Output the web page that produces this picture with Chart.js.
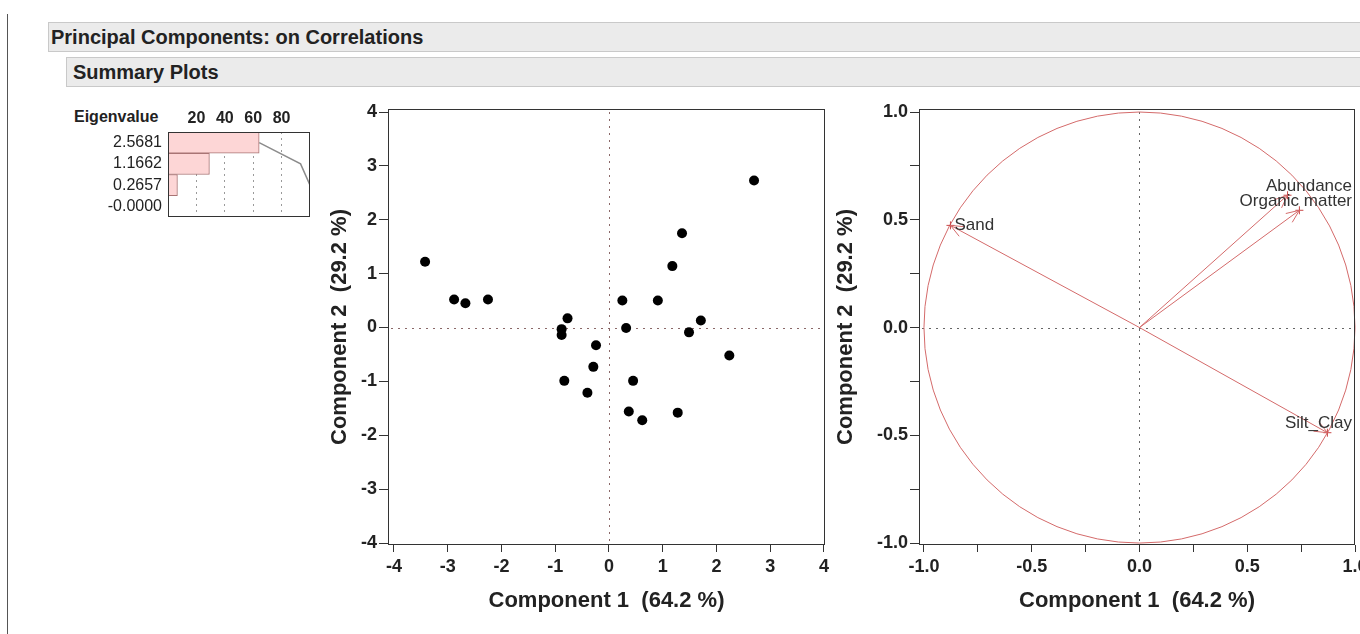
<!DOCTYPE html>
<html>
<head>
<meta charset="utf-8">
<script src="https://cdn.jsdelivr.net/npm/chart.js@4.4.1/dist/chart.umd.min.js"></script>
<style>
html, body { margin:0; padding:0; width:1360px; height:634px; overflow:hidden; background:#fff;
  font-family:"Liberation Sans", Arial, sans-serif; position:relative; }
#edge { position:absolute; left:7px; top:14px; width:1px; height:620px; background:#555; }
.bar { position:absolute; background:#ebebeb; border:1px solid #c9c9c9; border-right:none;
  font-weight:bold; color:#222; box-sizing:border-box; font-size:20px; line-height:28px; }
#title { left:48px; top:22px; width:1312px; height:30px; padding-left:2px; }
#sub { left:66px; top:57px; width:1294px; height:30px; padding-left:6px; }
.box { position:absolute; }
#eigBox { left:60px; top:100px; width:260px; height:125px; }
#scoreBox { left:320px; top:100px; width:515px; height:520px; }
#loadBox { left:826px; top:100px; width:554px; height:520px; }
#eigHead { position:absolute; left:74px; top:108px; font-size:16px; line-height:18px; font-weight:bold; color:#222; }
</style>
</head>
<body>
<div id="edge"></div>
<div class="bar" id="title">Principal Components: on Correlations</div>
<div class="bar" id="sub">Summary Plots</div>
<div id="eigHead">Eigenvalue</div>
<div class="box" id="eigBox"><canvas id="eig" width="260" height="125"></canvas></div>
<div class="box" id="scoreBox"><canvas id="score" width="515" height="520"></canvas></div>
<div class="box" id="loadBox"><canvas id="load" width="554" height="520"></canvas></div>
<script>
// eigenvalues
const eigenLabels = ['2.5681', '1.1662', '0.2657', '-0.0000'];
const eigenPercent = [64.2, 29.16, 6.64, 0];
const eigenCumPercent = [64.2, 93.36, 100, 100];
const percentTicks = [20, 40, 60, 80];

// score plot
const scoreX = [-3.42, -2.88, -2.67, -2.25, -0.77, -0.88, -0.88, -0.24, -0.29, -0.83, -0.40, 0.25,
                0.32, 0.45, 0.37, 0.62, 0.91, 1.18, 1.36, 1.71, 1.49, 1.28, 2.24, 2.70];
const scoreY = [1.22, 0.52, 0.45, 0.52, 0.17, -0.03, -0.14, -0.33, -0.73, -0.99, -1.21, 0.50,
                -0.01, -0.99, -1.56, -1.72, 0.50, 1.14, 1.75, 0.13, -0.09, -1.58, -0.52, 2.73];
const scoreTicks = [-4, -3, -2, -1, 0, 1, 2, 3, 4];

// loading plot
const loadingNames = ['Sand', 'Abundance', 'Organic matter', 'Silt_Clay'];
const loadingX = [-0.877, 0.687, 0.742, 0.872];
const loadingY = [0.474, 0.614, 0.544, -0.488];
const loadingTicks = [-1, -0.75, -0.5, -0.25, 0, 0.25, 0.5, 0.75, 1];

Chart.defaults.font.family = '"Liberation Sans", Arial, sans-serif';
Chart.defaults.color = '#222';

const noPad = s => { s.paddingLeft = 0; s.paddingRight = 0; s.paddingTop = 0; s.paddingBottom = 0; };

const framePlugin = {
  id: 'frame',
  afterDraw(chart) {
    const { ctx, chartArea: a } = chart;
    ctx.save();
    ctx.strokeStyle = '#333';
    ctx.lineWidth = 1;
    ctx.strokeRect(Math.round(a.left) + 0.5, Math.round(a.top) + 0.5,
      Math.round(a.right - a.left) - 1, Math.round(a.bottom - a.top) - 1);
    ctx.restore();
  }
};

const zeroLines = {
  id: 'zeroLines',
  beforeDatasetsDraw(chart, args, opts) {
    const { ctx, chartArea: a, scales: { x, y } } = chart;
    const px = Math.round(x.getPixelForValue(0)) + 0.5;
    const py = Math.round(y.getPixelForValue(0)) + 0.5;
    ctx.save();
    ctx.strokeStyle = opts.color || '#777';
    ctx.lineWidth = 1;
    ctx.setLineDash([2, 5]);
    ctx.beginPath();
    ctx.moveTo(px, a.top + 3); ctx.lineTo(px, a.bottom - 3);
    ctx.moveTo(a.left + 3, py); ctx.lineTo(a.right - 3, py);
    ctx.stroke();
    ctx.restore();
  }
};

// eigenvalue bar chart
new Chart(document.getElementById('eig'), {
  type: 'bar',
  data: {
    labels: eigenLabels,
    datasets: [
      { type: 'line', indexAxis: 'y', data: eigenCumPercent, borderColor: '#8c8c8c', borderWidth: 1.5,
        pointRadius: 0, order: 0 },
      { data: eigenPercent, backgroundColor: '#fdd6d6', borderColor: '#a87474', borderWidth: 1,
        barPercentage: 1, categoryPercentage: 1, order: 1 }
    ]
  },
  options: {
    indexAxis: 'y',
    responsive: false, animation: false, events: [],
    layout: { padding: { right: 10, bottom: 8 } },
    plugins: { legend: { display: false }, tooltip: { enabled: false } },
    scales: {
      x: {
        position: 'top', min: 0, max: 100,
        afterBuildTicks: s => { s.ticks = percentTicks.map(v => ({ value: v })); },
        afterFit: s => { s.height = 32; noPad(s); },
        grid: { color: '#9a9a9a', drawTicks: false },
        border: { display: false, dash: [2, 4] },
        ticks: { font: { size: 16, weight: 'bold' }, padding: 4, autoSkip: false, maxRotation: 0 }
      },
      y: {
        afterFit: s => { s.width = 108; noPad(s); },
        grid: { display: false, drawTicks: false },
        border: { display: false },
        ticks: { font: { size: 16 }, padding: 6, autoSkip: false }
      }
    }
  },
  plugins: [framePlugin]
});

function plotScales(xMin, xMax, yMin, yMax, xTicks, yTicks, yTitle, yWidth, fmt) {
  const tickOpts = { font: { size: 18, weight: 'bold' }, color: '#222', callback: fmt };
  return {
    x: {
      type: 'linear', min: xMin, max: xMax,
      afterBuildTicks: s => { s.ticks = xTicks.map(v => ({ value: v })); },
      afterFit: s => { s.height = 75; noPad(s); },
      grid: { drawOnChartArea: false, tickLength: 7, tickColor: '#333' },
      border: { display: false },
      ticks: Object.assign({ padding: 4, maxRotation: 0, autoSkip: false }, tickOpts),
      title: { display: true, text: 'Component 1  (64.2 %)', font: { size: 22, weight: 'bold' },
        color: '#222', padding: { top: 0, bottom: 6 } }
    },
    y: {
      type: 'linear', min: yMin, max: yMax,
      afterBuildTicks: s => { s.ticks = yTicks.map(v => ({ value: v })); },
      afterFit: s => { s.width = yWidth; noPad(s); },
      grid: { drawOnChartArea: false, tickLength: 9, tickColor: '#333' },
      border: { display: false },
      ticks: Object.assign({ padding: 2, autoSkip: false }, tickOpts),
      title: { display: true, text: yTitle, font: { size: 22, weight: 'bold' },
        color: '#222', padding: { top: 7, bottom: 0 } }
    }
  };
}

// score plot
new Chart(document.getElementById('score'), {
  type: 'scatter',
  data: {
    datasets: [{
      data: scoreX.map((v, i) => ({ x: v, y: scoreY[i] })),
      backgroundColor: '#000', borderColor: '#000', pointRadius: 5, pointBorderWidth: 0
    }]
  },
  options: {
    responsive: false, animation: false, events: [],
    layout: { padding: { top: 9, right: 10 } },
    plugins: { legend: { display: false }, tooltip: { enabled: false }, zeroLines: { color: '#8a6868' } },
    scales: plotScales(-4.11, 4.02, -4.037, 4.056, scoreTicks, scoreTicks,
      'Component 2  (29.2 %)', 68, v => String(v))
  },
  plugins: [zeroLines, framePlugin]
});

// loading plot
const loadingPlugin = {
  id: 'loadings',
  beforeDatasetsDraw(chart) {
    const { ctx, scales: { x, y } } = chart;
    const cx = x.getPixelForValue(0), cy = y.getPixelForValue(0);
    const rx = x.getPixelForValue(1) - cx, ry = cy - y.getPixelForValue(1);
    ctx.save();
    ctx.strokeStyle = '#d46a6a';
    ctx.lineWidth = 1;
    ctx.beginPath();
    ctx.ellipse(cx, cy, rx, ry, 0, 0, 2 * Math.PI);
    ctx.stroke();
    ctx.restore();
  },
  afterDatasetsDraw(chart) {
    const { ctx, chartArea: a, scales: { x, y } } = chart;
    const cx = x.getPixelForValue(0), cy = y.getPixelForValue(0);
    ctx.save();
    ctx.font = '17px "Liberation Sans", Arial, sans-serif';
    ctx.textBaseline = 'middle';
    loadingNames.forEach((name, i) => {
      const tx = x.getPixelForValue(loadingX[i]), ty = y.getPixelForValue(loadingY[i]);
      const ang = Math.atan2(ty - cy, tx - cx);
      ctx.strokeStyle = '#d46a6a';
      ctx.lineWidth = 1;
      ctx.beginPath();
      [0.4, -0.4].forEach(d => {
        ctx.moveTo(tx, ty);
        ctx.lineTo(tx - 14 * Math.cos(ang + d), ty - 14 * Math.sin(ang + d));
      });
      ctx.stroke();
      const w = ctx.measureText(name).width;
      let lx = tx + 4, ly = ty;
      if (lx + w > a.right - 3) { lx = a.right - 3 - w; ly = ty - 9; }
      ctx.fillStyle = '#333';
      ctx.textAlign = 'left';
      ctx.fillText(name, lx, ly);
    });
    ctx.restore();
  }
};

new Chart(document.getElementById('load'), {
  type: 'line',
  data: {
    datasets: loadingNames.map((n, i) => ({
      data: [{ x: 0, y: 0 }, { x: loadingX[i], y: loadingY[i] }],
      borderColor: '#d46a6a', borderWidth: 1, pointRadius: [0, 4], pointStyle: 'cross',
      pointBorderColor: '#c84848', pointBorderWidth: 1, fill: false
    }))
  },
  options: {
    responsive: false, animation: false, events: [],
    layout: { padding: { top: 9, right: 25 } },
    plugins: { legend: { display: false }, tooltip: { enabled: false }, zeroLines: { color: '#666' } },
    scales: plotScales(-1.023, 1.0, -1.009, 1.014, loadingTicks, loadingTicks,
      'Component 2  (29.2 %)', 93,
      v => (Math.abs(v * 2 - Math.round(v * 2)) < 1e-6 ? v.toFixed(1) : ''))
  },
  plugins: [zeroLines, loadingPlugin, framePlugin]
});
</script>
</body>
</html>
